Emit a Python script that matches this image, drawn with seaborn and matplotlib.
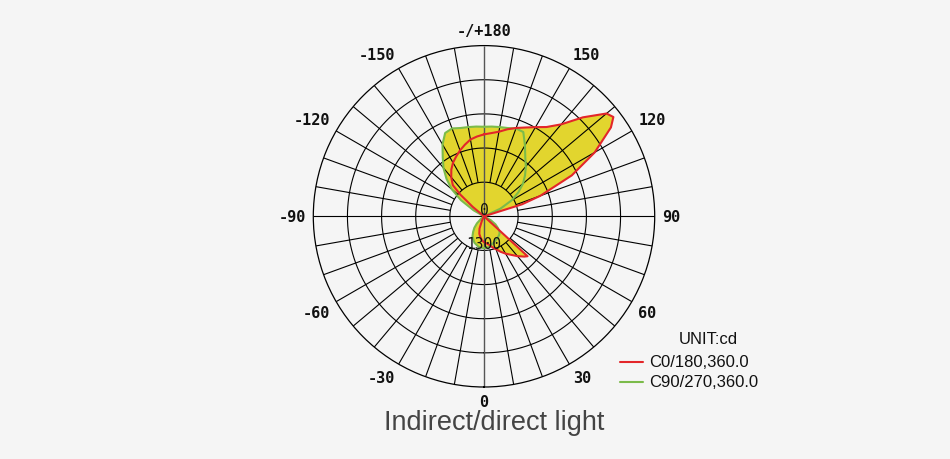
import numpy as np
import matplotlib
matplotlib.use("Agg")
import matplotlib.pyplot as plt
from matplotlib.lines import Line2D
import seaborn as sns

sns.set_style("white")
plt.rcParams['font.family'] = ['DejaVu Sans']

# ---------------- data ----------------
ring_values = [1300, 2600, 3900, 5200, 6500]
label_angles = [0, 30, 60, 90, 120, 150, 180, -150, -120, -90, -60, -30]
angle_labels = ["0", "30", "60", "90", "120", "150", "-/+180",
                "-150", "-120", "-90", "-60", "-30"]
series_names = ["C0/180,360.0", "C90/270,360.0"]
unit_label = "UNIT:cd"
title_text = "Indirect/direct light"

# C0/180 plane (gamma angle in degrees, intensity in cd)
c0_angles = [-180, -175, -170, -165, -160, -155, -150, -145, -140, -135,
             -132.5, -130, -127.5, -30, -25, -20, -15, -10, -5, 0, 5, 10,
             15, 20, 25, 30, 35, 40, 45, 47.5, 50, 105, 107.5, 110, 115,
             120, 125, 127.5, 130, 135, 140, 145, 150, 155, 160, 165, 170,
             175, 180]
c0_cd = [3120, 3050, 2970, 2820, 2670, 2510, 2360, 2170, 1940, 1680,
         1220, 570, 0, 0, 190, 500, 690, 800, 910, 990, 1030, 1100,
         1220, 1330, 1490, 1640, 1790, 1980, 2170, 2250, 0, 0, 1520, 2280, 3690,
         4870, 5900, 6210, 6090, 5330, 4570, 4150, 3920, 3730, 3580, 3430, 3270,
         3180, 3120]

# C90/270 plane
c90_angles = [-180, -175, -170, -165, -160, -155, -150, -145, -140, -135,
              -130, -125, -120, -115, -60, -50, -45, -40, -35, -30, -20, -10,
              0, 10, 20, 30, 40, 45, 50, 55, 60, 65, 110, 115, 120, 125, 130,
              135, 140, 145, 150, 155, 160, 165, 170, 175, 180]
c90_cd = [3410, 3430, 3450, 3480, 3560, 3500, 3160, 2740, 2400, 2020,
          1600, 1070, 460, 0, 0, 150, 380, 570, 720, 880, 1070, 1180,
          1220, 1180, 1070, 990, 910, 840, 690, 530, 300, 0, 0, 690, 1220, 1600, 1940,
          2210, 2480, 2740, 3120, 3540, 3560, 3480, 3450, 3430, 3410]

# ---------------- style ----------------
BG = "#f5f5f5"
FILL = "#e2d52e"
RED = "#e3262a"
GREEN = "#7bbb4a"

fig = plt.figure(figsize=(9.5, 4.6), dpi=100, facecolor=BG)
W, H = 950, 460
cx, cy, R = 484, 217.3, 170.7
ax = fig.add_axes([(cx - R) / W, (H - cy - R) / H, 2 * R / W, 2 * R / H],
                  projection="polar")
ax.set_facecolor("none")
ax.set_theta_zero_location("S")
ax.set_theta_direction(1)
rmax = ring_values[-1]
ax.set_ylim(0, rmax)
ax.grid(False)
ax.set_xticks([])
ax.set_yticks([])
ax.spines["polar"].set_color("black")
ax.spines["polar"].set_linewidth(0.9)

th0 = np.deg2rad(c0_angles)
th90 = np.deg2rad(c90_angles)

# fills
ax.fill(th0, c0_cd, color=FILL, zorder=1, lw=0)
ax.fill(th90, c90_cd, color=FILL, zorder=1, lw=0)

# rings
ring_theta = np.deg2rad(np.arange(0, 361, 1))
for rv in ring_values[:-1]:
    ax.plot(ring_theta, np.full_like(ring_theta, rv), color="black", lw=0.8, zorder=2)

# spokes every 10 degrees, starting at the first ring
spokes = [a for a in range(-170, 181, 10) if a % 90 != 0]
ax.vlines(np.deg2rad(spokes), ring_values[0], rmax, colors="black", lw=0.8, zorder=2)
ax.vlines(np.deg2rad([-90, 90]), 0, rmax, colors="black", lw=0.8, zorder=2)
ax.vlines(np.deg2rad([0, 180]), 0, rmax, colors="#555555", lw=1.0, zorder=2)

# curves
sns.lineplot(x=th90, y=c90_cd, ax=ax, sort=False, estimator=None,
             color=GREEN, lw=1.5, zorder=3)
sns.lineplot(x=th0, y=c0_cd, ax=ax, sort=False, estimator=None,
             color=RED, lw=1.5, zorder=4)
ax.set_ylim(0, rmax)
ax.set_xlabel("")
ax.set_ylabel("")

# angle labels
lab_r = rmax * 178 / R
for a, t in zip(label_angles, angle_labels):
    s = np.sin(np.deg2rad(a))
    c = np.cos(np.deg2rad(a))
    ha = "left" if s > 0.01 else ("right" if s < -0.01 else "center")
    va = "top" if c > 0.01 else ("bottom" if c < -0.01 else "center")
    ax.text(np.deg2rad(a), lab_r, t, ha=ha, va=va, fontsize=11,
            family="DejaVu Sans Mono", fontweight="bold", color="#111111",
            clip_on=False, zorder=5)

# ring value labels
ax.annotate("0", xy=(0, 0), xytext=(0, 7), textcoords="offset pixels",
            ha="center", va="center", fontsize=10.5, family="DejaVu Sans Mono",
            color="#111111", zorder=6)
ax.annotate(str(ring_values[0]), xy=(0, ring_values[0]), xytext=(0, 7),
            textcoords="offset pixels", ha="center", va="center", fontsize=10.5,
            family="DejaVu Sans Mono", color="#111111", zorder=6)

# legend (manual)
fig.text(708 / W, 1 - 340 / H, unit_label, ha="center", va="center",
         fontsize=12, family="Liberation Sans", color="#111111")
for i, (name, col) in enumerate(zip(series_names, [RED, GREEN])):
    y = 1 - (362.5 + 20 * i) / H
    fig.add_artist(Line2D([620 / W, 643 / W], [y, y], color=col, lw=1.5))
    fig.text(649 / W, y, name, ha="left", va="center", fontsize=12,
             family="Liberation Sans", color="#111111")

fig.text(494 / W, 1 - 430.5 / H, title_text, ha="center", va="baseline",
         fontsize=19.5, family="Liberation Sans", color="#444444")

fig.savefig("out.png", dpi=100, facecolor=BG)
